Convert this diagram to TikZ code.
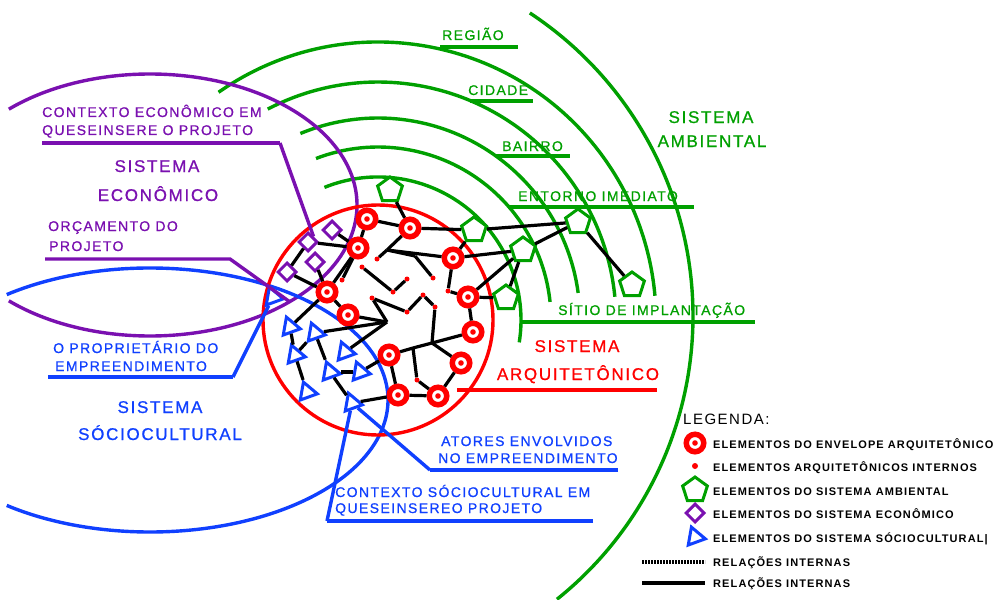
\documentclass[tikz,border=0pt]{standalone}
\usepackage{fontspec}
\newfontfamily\labfont[LetterSpace=10,FakeBold=0.8]{Liberation Sans}
\newfontfamily\legfont[LetterSpace=10]{Liberation Sans}
\usepackage{xcolor}
\definecolor{sred}{HTML}{FF0000}
\definecolor{sgreen}{HTML}{00A000}
\definecolor{spurple}{HTML}{7A10B0}
\definecolor{sblue}{HTML}{1040FF}
\usepackage{tikz}
\usetikzlibrary{shapes.geometric}

\begin{document}
\begin{tikzpicture}[x=1pt,y=-1pt,
  sys/.style={line width=3.4pt},
  rel/.style={line width=3.2pt,black},
  ring/.style={circle,draw=sred,line width=5.5pt,fill=white,inner sep=0pt,minimum size=17.5pt,
    path picture={\fill[sred] (path picture bounding box.center) circle (2.8pt);}},
  idot/.style={circle,fill=sred,inner sep=0pt,minimum size=5pt},
  pent/.style={regular polygon,regular polygon sides=5,draw=sgreen,line width=3pt,fill=white,
    inner sep=0pt,minimum size=26pt},
  diam/.style={diamond,draw=spurple,line width=3pt,fill=white,inner sep=0pt,minimum size=19pt},
  tri/.style={regular polygon,regular polygon sides=3,draw=sblue,line width=3pt,fill=white,
    inner sep=0pt,minimum size=21pt,shape border rotate=20},
  big/.style={font=\labfont\fontsize{17}{17}\selectfont,inner sep=0pt,anchor=base},
  lab/.style={font=\labfont\fontsize{14}{14}\selectfont,inner sep=0pt,anchor=base west},
  leg/.style={font=\legfont\bfseries\fontsize{11}{11}\selectfont,inner sep=0pt,anchor=base west}]
\path[fill=white] (0,0) rectangle (1000,599);
\useasboundingbox (0,0) rectangle (1000,599);

% systems
\coordinate (ctr) at (378,320);
\coordinate (actr) at (330,316);
\coordinate (ectr) at (150,205);
\coordinate (sctr) at (150,400);
\draw[sys,sgreen] (ctr) ++(-125:278) arc[start angle=-125,end angle=-5,radius=278];
\draw[sys,sgreen] (ctr) ++(-117.6:238) arc[start angle=-117.6,end angle=-5.6,radius=238];
\draw[sys,sgreen] (ctr) ++(-112.6:202) arc[start angle=-112.6,end angle=-7.7,radius=202];
\draw[sys,sgreen] (ctr) ++(-111:173) arc[start angle=-111,end angle=-6,radius=173];
\draw[sys,sgreen] (ctr) ++(-112:143) arc[start angle=-112,end angle=9,radius=143];
\draw[sys,sgreen] (actr) ++(-56.6:363) arc[start angle=-56.6,end angle=51.3,radius=363];
\draw[sys,spurple] (ectr) ++(-133:207 and 131) arc[start angle=-133,end angle=133,x radius=207,y radius=131];
\draw[sys,sblue] (sctr) ++(-127:238 and 132) arc[start angle=-127,end angle=127,x radius=238,y radius=132];
\draw[sys,sred] (ctr) circle[radius=115];

% green labels
\node[lab,sgreen] (reg) at (442,40) {REGIÃO};
\node[lab,sgreen] (cid) at (468,95) {CIDADE};
\node[lab,sgreen] (bai) at (502,151) {BAIRRO};
\node[lab,sgreen] (ent) at (518,201) {ENTORNO IMEDIATO};
\node[lab,sgreen] (sit) at (558,315) {SÍTIO DE IMPLANTAÇÃO};
\node[big,sgreen] (amb1) at (711,123) {SISTEMA};
\node[big,sgreen] (amb2) at (712,147) {AMBIENTAL};
\coordinate (regA) at (440,47); \coordinate (regB) at (518,47);
\coordinate (cidA) at (470,101); \coordinate (cidB) at (533,101);
\coordinate (baiA) at (496,156); \coordinate (baiB) at (570,156);
\coordinate (entA) at (509,207); \coordinate (entB) at (694,207);
\coordinate (sitA) at (521,322); \coordinate (sitB) at (755,322);
\draw[sys,sgreen] (regA) -- (regB);
\draw[sys,sgreen] (cidA) -- (cidB);
\draw[sys,sgreen] (baiA) -- (baiB);
\draw[sys,sgreen] (entA) -- (entB);
\draw[sys,sgreen] (sitA) -- (sitB);

% red label
\node[big,sred] (arq1) at (577,352) {SISTEMA};
\node[big,sred] (arq2) at (578,380) {ARQUITETÔNICO};
\coordinate (arqA) at (457,390); \coordinate (arqB) at (657,390);
\draw[line width=4.5pt,sred] (arqA) -- (arqB);

% purple labels
\node[lab,spurple] (ectx1) at (42,117) {CONTEXTO ECONÔMICO EM};
\node[lab,spurple] (ectx2) at (42,135) {QUESEINSERE O PROJETO};
\node[big,spurple] (eco1) at (157,172) {SISTEMA};
\node[big,spurple] (eco2) at (158,201) {ECONÔMICO};
\node[lab,spurple] (orc1) at (48,231) {ORÇAMENTO DO};
\node[lab,spurple] (orc2) at (49,251) {PROJETO};

% blue labels
\node[lab,sblue] (prop1) at (53,353) {O PROPRIETÁRIO DO};
\node[lab,sblue] (prop2) at (55,371) {EMPREENDIMENTO};
\node[big,sblue] (soc1) at (160,413) {SISTEMA};
\node[big,sblue] (soc2) at (160,440) {SÓCIOCULTURAL};
\node[lab,sblue] (ator1) at (441,446) {ATORES ENVOLVIDOS};
\node[lab,sblue] (ator2) at (438,463) {NO EMPREENDIMENTO};
\node[lab,sblue] (sctx1) at (335,497) {CONTEXTO SÓCIOCULTURAL EM};
\node[lab,sblue] (sctx2) at (335,513) {QUESEINSEREO PROJETO};

% internal elements
\node[idot] (e1) at (377,259) {};
\node[idot] (e2) at (433,278) {};
\node[idot] (e3) at (342,280) {};
\node[idot] (v1) at (362,267) {};
\node[idot] (v2) at (393,292) {};
\node[idot] (v3) at (407,279) {};
\node[idot] (z1) at (372,298) {};
\node[idot] (z2) at (407,312) {};
\node[idot] (z3) at (423,295) {};
\node[idot] (z4) at (435,307) {};
\node[idot] (k3) at (417,380) {};
\node[idot] (k4) at (448,291) {};
\coordinate (j1) at (387,250);
\coordinate (j2) at (415,256);
\coordinate (c0) at (387,322);
\coordinate (k1) at (432,343);
\coordinate (k2) at (413,348);

% envelope
\node[ring] (r1) at (367,219) {};
\node[ring] (r2) at (410,228) {};
\node[ring] (r3) at (358,248) {};
\node[ring] (r4) at (453,258) {};
\node[ring] (r5) at (327,292) {};
\node[ring] (r6) at (468,297) {};
\node[ring] (r7) at (348,315) {};
\node[ring] (r8) at (473,332) {};
\node[ring] (r9) at (389,355) {};
\node[ring] (r10) at (461,363) {};
\node[ring] (r11) at (398,395) {};
\node[ring] (r12) at (438,396) {};

% environment
\node[pent] (p1) at (390,190) {};
\node[pent] (p2) at (474,230) {};
\node[pent] (p3) at (523,250) {};
\node[pent] (p4) at (506,298) {};
\node[pent] (p5) at (578,222) {};
\node[pent] (p6) at (632,285) {};

% economy
\node[diam] (d1) at (332,230) {};
\node[diam] (d2) at (308,242) {};
\node[diam] (d3) at (315,262) {};
\node[diam] (d4) at (287,272) {};

% society
\node[tri] (t0) at (273,297) {};
\node[tri] (t1) at (290,327) {};
\node[tri] (t2) at (315,333) {};
\node[tri] (t3) at (345,352) {};
\node[tri] (t4) at (295,355) {};
\node[tri] (t5) at (330,372) {};
\node[tri] (t6) at (360,372) {};
\node[tri] (t7) at (307,392) {};
\node[tri] (t8) at (352,403) {};

% leaders
\coordinate (ectxA) at (42,143); \coordinate (ectxB) at (280,143);
\coordinate (orcA) at (45,259); \coordinate (orcB) at (230,259); \coordinate (orcC) at (290,302);
\coordinate (propA) at (48,377); \coordinate (propB) at (233,377);
\coordinate (atorA) at (618,470); \coordinate (atorB) at (430,470);
\coordinate (sctxA) at (593,521); \coordinate (sctxB) at (327,521);
\draw[sys,spurple] (ectxA) -- (ectxB);
\draw[sys,spurple] (ectxB) -- (d2.north east);
\draw[sys,spurple] (orcA) -- (orcB) -- (orcC);
\draw[sys,sblue] (propA) -- (propB);
\draw[sys,sblue] (propB) -- (t0);
\draw[sys,sblue] (atorA) -- (atorB);
\draw[sys,sblue] (atorB) -- (t8);
\draw[sys,sblue] (sctxA) -- (sctxB);
\draw[sys,sblue] (sctxB) -- (t8);

% relations
\draw[rel] (p1) -- (r2);
\draw[rel] (r1) -- (r2);
\draw[rel] (r1) -- (r3);
\draw[rel] (r2) -- (p2);
\draw[rel] (p2) -- (p5);
\draw[rel] (p3) -- (p5);
\draw[rel] (p5) -- (p6);
\draw[rel] (p2) -- (r4);
\draw[rel] (r4) -- (p3);
\draw[rel] (r6) -- (p3);
\draw[rel] (r6) -- (p4);
\draw[rel] (p4) -- (p3);
\draw[rel] (r4) -- (k4);
\draw[rel] (k4) -- (r6);
\draw[rel] (r6) -- (r8);
\draw[rel] (r2) -- (j1);
\draw[rel] (j1) -- (e1);
\draw[rel] (j1) -- (r4);
\draw[rel] (j1) -- (j2);
\draw[rel] (j2) -- (e2);
\draw[rel] (v1) -- (v2);
\draw[rel] (v2) -- (v3);
\draw[rel] (r3) -- (r5);
\draw[rel] (r3) -- (e3);
\draw[rel] (d1) -- (r3);
\draw[rel] (d2) -- (r3);
\draw[rel] (d2) -- (d4);
\draw[rel] (d3) -- (r5);
\draw[rel] (d4) -- (r5);
\draw[rel] (r5) -- (r7);
\draw[rel] (r5) -- (t1);
\draw[rel] (t1) -- (t4);
\draw[rel] (t4) -- (t2);
\draw[rel] (t4) -- (t7);
\draw[rel] (t2) -- (t5);
\draw[rel] (t2) -- (c0);
\draw[rel] (t3) -- (c0);
\draw[rel] (r7) -- (c0);
\draw[rel] (c0) -- (z1);
\draw[rel] (z1) -- (z2);
\draw[rel] (z2) -- (z3);
\draw[rel] (z3) -- (z4);
\draw[rel] (z4) -- (k1);
\draw[rel] (r8) -- (k1);
\draw[rel] (k1) -- (k2);
\draw[rel] (k2) -- (r9);
\draw[rel] (k1) -- (r10);
\draw[rel] (k2) -- (k3);
\draw[rel] (k3) -- (r12);
\draw[rel] (r10) -- (r12);
\draw[rel] (r9) -- (r11);
\draw[rel] (r11) -- (r12);
\draw[rel] (r11) -- (t8);
\draw[rel] (r9) -- (t6);
\draw[rel] (t6) -- (t5);
\draw[rel] (t5) -- (t8);

% legend
\node[font=\legfont\fontsize{15}{15}\selectfont,inner sep=0pt,anchor=base west] (legt) at (683,424) {LEGENDA:};
\node[ring] (lring) at (695,443) {};
\node[leg] (lt1) at (713,448) {ELEMENTOS DO ENVELOPE ARQUITETÔNICO};
\node[idot,minimum size=6pt] (ldot) at (695,466) {};
\node[leg] (lt2) at (713,471) {ELEMENTOS ARQUITETÔNICOS INTERNOS};
\node[pent] (lpent) at (695,490) {};
\node[leg] (lt3) at (713,495) {ELEMENTOS DO SISTEMA AMBIENTAL};
\node[diam] (ldiam) at (695,513) {};
\node[leg] (lt4) at (713,518) {ELEMENTOS DO SISTEMA ECONÔMICO};
\node[tri] (ltri) at (695,537) {};
\node[leg] (lt5) at (713,542) {ELEMENTOS DO SISTEMA SÓCIOCULTURAL|};
\coordinate (lrA) at (642,562); \coordinate (lrB) at (705,562);
\draw[line width=3.4pt,dash pattern=on 2.2pt off 0.8pt] (lrA) -- (lrB);
\node[leg] (lt6) at (713,566) {RELAÇÕES INTERNAS};
\coordinate (lsA) at (642,583); \coordinate (lsB) at (705,583);
\draw[rel] (lsA) -- (lsB);
\node[leg] (lt7) at (713,587) {RELAÇÕES INTERNAS};
\end{tikzpicture}
\end{document}
